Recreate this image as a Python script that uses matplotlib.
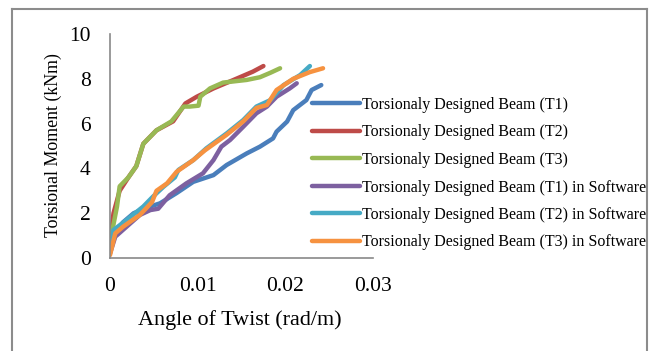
import matplotlib
matplotlib.use("Agg")
import matplotlib.pyplot as plt
from matplotlib.lines import Line2D

plt.rcParams['font.family'] = ['Liberation Serif', 'DejaVu Serif']

labels = ["Torsionaly Designed Beam (T1)",
          "Torsionaly Designed Beam (T2)",
          "Torsionaly Designed Beam (T3)",
          "Torsionaly Designed Beam (T1) in Software",
          "Torsionaly Designed Beam (T2) in Software",
          "Torsionaly Designed Beam (T3) in Software"]
colors = ["#4A7EBB", "#BE4B48", "#98B954", "#7D60A0", "#46AAC5", "#F69240"]

t1_x = [0, 0.00057, 0.0015, 0.0027, 0.0046, 0.0057, 0.0076, 0.0095, 0.0118, 0.0133, 0.0156, 0.0171, 0.0186, 0.019, 0.0202, 0.0209, 0.0224, 0.023, 0.0241]
t1_y = [0.3, 1.1, 1.6, 2.0, 2.3, 2.44, 2.9, 3.4, 3.7, 4.15, 4.67, 4.97, 5.34, 5.64, 6.09, 6.6, 7.05, 7.5, 7.72]

t2_x = [0, 0.0001, 0.0004, 0.0011, 0.0021, 0.003, 0.0038, 0.0053, 0.0072, 0.0086, 0.0099, 0.0118, 0.0141, 0.0163, 0.0175]
t2_y = [0.5, 1.1, 2.0, 3.0, 3.6, 4.1, 5.1, 5.7, 6.1, 6.9, 7.2, 7.57, 7.95, 8.32, 8.57]

t3_x = [0, 0.0002, 0.0008, 0.0011, 0.0021, 0.003, 0.0038, 0.0053, 0.007, 0.0084, 0.0091, 0.0101, 0.0103, 0.0114, 0.0129, 0.0156, 0.0171, 0.0183, 0.0194]
t3_y = [0.4, 1.1, 2.3, 3.2, 3.6, 4.1, 5.1, 5.7, 6.1, 6.76, 6.76, 6.8, 7.2, 7.57, 7.83, 7.95, 8.07, 8.27, 8.47]

s1_x = [0, 0.0006, 0.0019, 0.0034, 0.0046, 0.0055, 0.0068, 0.0087, 0.0106, 0.0118, 0.0127, 0.0137, 0.0152, 0.0167, 0.0179, 0.019, 0.0205, 0.0213]
s1_y = [0.2, 0.95, 1.4, 1.92, 2.14, 2.2, 2.8, 3.33, 3.78, 4.37, 4.97, 5.27, 5.86, 6.46, 6.76, 7.2, 7.57, 7.8]

s2_x = [0, 0.0004, 0.0019, 0.0038, 0.0049, 0.0061, 0.0074, 0.0078, 0.0095, 0.011, 0.0133, 0.0152, 0.0167, 0.0183, 0.0198, 0.0217, 0.0228]
s2_y = [0.36, 1.25, 1.7, 2.3, 2.74, 3.18, 3.6, 3.93, 4.37, 4.9, 5.56, 6.16, 6.76, 7.05, 7.72, 8.17, 8.57]

s3_x = [0, 0.0006, 0.0015, 0.0034, 0.0048, 0.0053, 0.0065, 0.0076, 0.0095, 0.0108, 0.0133, 0.0152, 0.0167, 0.0179, 0.019, 0.0209, 0.0228, 0.0243]
s3_y = [0.13, 1.1, 1.4, 1.92, 2.5, 3.0, 3.33, 3.85, 4.37, 4.8, 5.5, 6.1, 6.7, 6.83, 7.5, 8.0, 8.3, 8.47]

xticks = [0, 0.01, 0.02, 0.03]
xtick_labels = ["0", "0.01", "0.02", "0.03"]
yticks = [0, 2, 4, 6, 8, 10]

W, H = 652, 351
fig = plt.figure(figsize=(W / 100, H / 100), dpi=100)
ax = fig.add_axes([110 / W, 1 - 258 / H, (373 - 110) / W, (258 - 34) / H])

series = [(t1_x, t1_y), (t2_x, t2_y), (t3_x, t3_y), (s1_x, s1_y), (s2_x, s2_y), (s3_x, s3_y)]
for (xs, ys), c, lab in zip(series, colors, labels):
    ax.plot(xs, ys, color=c, lw=3.2, label=lab, solid_joinstyle='round', solid_capstyle='round')

ax.set_xlim(0, 0.03)
ax.set_ylim(0, 10)
ax.set_xticks(xticks)
ax.set_xticklabels(xtick_labels)
ax.set_yticks(yticks)
ax.tick_params(length=0, labelsize=15.5, pad=0)
ax.tick_params(axis='y', pad=14)
ax.tick_params(axis='x', pad=14)
for s in ['top', 'right']:
    ax.spines[s].set_visible(False)
for s in ['left', 'bottom']:
    ax.spines[s].set_color('#898989')
    ax.spines[s].set_linewidth(1.2)

fig.text(240 / W, 1 - 320 / H, "Angle of Twist (rad/m)", ha='center', va='center', fontsize=15.9)
fig.text(53 / W, 1 - 145 / H, "Torsional Moment (kNm)", ha='center', va='center', fontsize=12.9, rotation=90)

leg = fig.legend(loc='upper left', bbox_to_anchor=(312 / W, 1 - 97 / H), frameon=False,
                 fontsize=11.5, handlelength=3.0, handletextpad=0.1, labelspacing=0.72,
                 borderpad=0, borderaxespad=0)

bc = '#8c8c8c'
fig.add_artist(Line2D([12 / W, 12 / W], [0, 1 - 9 / H], color=bc, lw=1.5))
fig.add_artist(Line2D([12 / W, 647 / W], [1 - 9 / H, 1 - 9 / H], color=bc, lw=1.5))
fig.add_artist(Line2D([647 / W, 647 / W], [0, 1 - 9 / H], color=bc, lw=1.5))

fig.savefig("out.png", dpi=100)
